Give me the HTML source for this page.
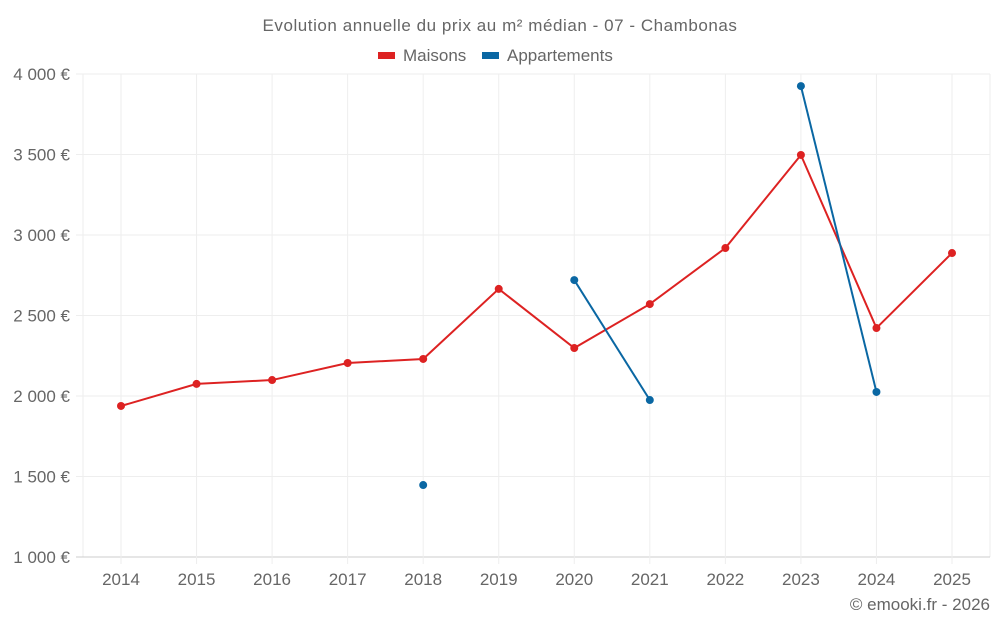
<!DOCTYPE html>
<html><head><meta charset="utf-8"><style>
body{margin:0;background:#fff;width:1000px;height:625px;overflow:hidden}
svg{font-family:"Liberation Sans",sans-serif}
</style></head><body>
<svg id="c" width="1000" height="625">
<text x="500" y="31" text-anchor="middle" font-size="17" letter-spacing="0.55" fill="#666">Evolution annuelle du prix au m² médian - 07 - Chambonas</text>
<g>
<g><rect x="378" y="52" width="17" height="7" fill="#dd2222"/><text x="403" y="61" font-size="17" fill="#666">Maisons</text></g>
<g><rect x="482" y="52" width="17" height="7" fill="#0a67a3"/><text x="507" y="61" font-size="17" fill="#666">Appartements</text></g>
</g>
<g id="grid"></g><g id="axes"></g><g id="series"></g>
<text x="990" y="610" text-anchor="end" font-size="17" fill="#666">© emooki.fr - 2026</text>
</svg>
<script>
const years=[2014,2015,2016,2017,2018,2019,2020,2021,2022,2023,2024,2025];
const maisons=[1938,2075,2099,2205,2230,2665,2298,2571,2919,3497,2422,2888];
const appartements=[null,null,null,null,1447,null,2720,1975,null,3925,2025,null];
const yTicks=[1000,1500,2000,2500,3000,3500,4000];
const yLabels=["1 000 €","1 500 €","2 000 €","2 500 €","3 000 €","3 500 €","4 000 €"];
const L=83,R=990,T=74,B=557,x0=121,x1=952;
const X=i=>x0+(x1-x0)*i/(years.length-1);
const Y=v=>B-(v-1000)/3000*(B-T);
const ns="http://www.w3.org/2000/svg";
function mk(tag,attrs,parent){const e=document.createElementNS(ns,tag);for(const k in attrs)e.setAttribute(k,attrs[k]);document.getElementById(parent).appendChild(e);return e;}
mk('line',{x1:L,x2:L,y1:T,y2:B,stroke:'#eee'},'grid');
mk('line',{x1:R,x2:R,y1:T,y2:B,stroke:'#eee'},'grid');
yTicks.forEach((v,i)=>{
 const g=mk('line',{x1:76,x2:R,y1:Y(v),y2:Y(v),stroke:i==0?'#ccc':'#eee'},'grid');
 
 
 const t=mk('text',{x:70,y:Y(v)+6,'text-anchor':'end','font-size':17,fill:'#666'},'axes');
 t.textContent=yLabels[i];
 
 
});
years.forEach((yr,i)=>{
 const g=mk('line',{x1:X(i),x2:X(i),y1:T,y2:B+7,stroke:'#eee'},'grid');
 
 
 const t=mk('text',{x:X(i),y:585,'text-anchor':'middle','font-size':17,fill:'#666'},'axes');
 t.textContent=yr;
 
 
});
function draw(data,color,name){
 let seg=[];
 const flush=()=>{if(seg.length>1){const p=mk('polyline',{points:seg.join(' '),fill:'none',stroke:color,'stroke-width':2},'series');}seg=[];};
 data.forEach((v,i)=>{if(v==null){flush();return;}seg.push(X(i)+','+Y(v));});
 flush();
 data.forEach((v,i)=>{if(v==null)return;const c=mk('circle',{cx:X(i),cy:Y(v),r:4,fill:color},'series');});
}
draw(maisons,'#dd2222','maisons');
draw(appartements,'#0a67a3','appartements');
</script>
</body></html>
